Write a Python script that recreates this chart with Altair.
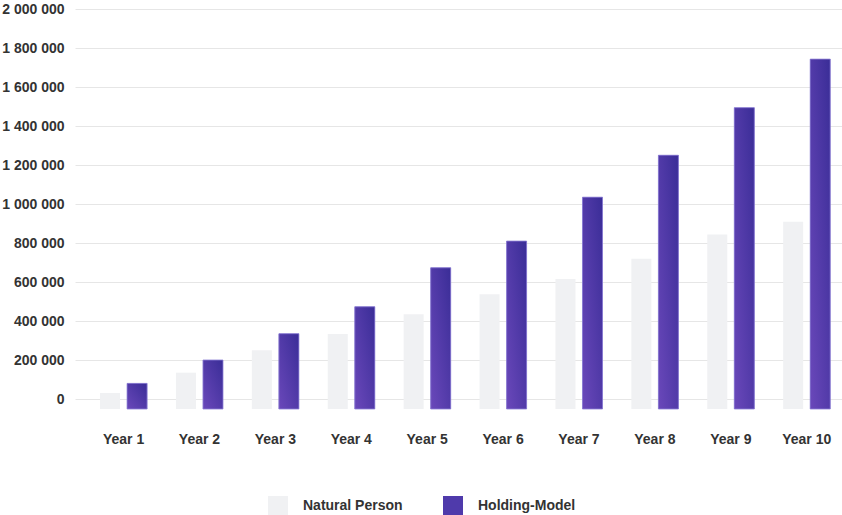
import altair as alt
import pandas as pd

years = [f"Year {i}" for i in range(1, 11)]
natural_person = [31000, 135000, 250000, 333000, 434000, 537000, 615000, 719000, 843000, 909000]
holding_model = [80000, 200000, 335000, 473000, 673000, 810000, 1035000, 1250000, 1494000, 1743000]
series_names = ["Natural Person", "Holding-Model"]
y_ticks = [0, 200000, 400000, 600000, 800000, 1000000, 1200000, 1400000, 1600000, 1800000, 2000000]

rows = []
for yr, a, b in zip(years, natural_person, holding_model):
    rows.append({"year": yr, "series": series_names[0], "value": a})
    rows.append({"year": yr, "series": series_names[1], "value": b})
df = pd.DataFrame(rows)

Y_MIN = -51282
Y_MAX = 2000000
FONT = "Liberation Sans"
TXT = "#333333"

x = alt.X(
    "year:N",
    sort=years,
    scale=alt.Scale(paddingInner=0.38, paddingOuter=0.2425, align=0.68),
    axis=alt.Axis(title=None, labelAngle=0, ticks=False, domain=False, labelPadding=23,
                  labelFont=FONT, labelFontSize=14, labelFontWeight="bold", labelColor=TXT),
)
xo = alt.XOffset("series:N", sort=series_names, scale=alt.Scale(paddingInner=0.26, paddingOuter=0))
y = alt.Y(
    "value:Q",
    scale=alt.Scale(domain=[Y_MIN, Y_MAX], nice=False, zero=False),
    axis=alt.Axis(values=y_ticks, title=None, ticks=False, domain=False, labelPadding=11,
                  grid=True, gridColor="#e6e6e6", gridWidth=1,
                  labelFont=FONT, labelFontSize=14, labelFontWeight="bold", labelColor=TXT,
                  labelExpr="replace(replace(format(datum.value, ','), ',', ' '), ',', ' ')"),
)

base = alt.Chart(df).mark_bar().encode(
    x=x,
    xOffset=xo,
    y=y,
    y2=alt.datum(Y_MIN),
    color=alt.Color(
        "series:N",
        sort=series_names,
        scale=alt.Scale(domain=series_names, range=["#f0f1f3", "#4f3aab"]),
        legend=alt.Legend(title=None, orient="none", legendX=193, legendY=487,
                          direction="horizontal", symbolType="square", symbolSize=400,
                          symbolStrokeWidth=0, labelFont=FONT, labelFontSize=14,
                          labelFontWeight="bold", labelColor=TXT, labelOffset=15,
                          columnPadding=40, padding=0),
    ),
)

grad = alt.Chart(df).transform_filter(
    alt.datum.series == "Holding-Model"
).mark_bar(
    fill=alt.Gradient(
        gradient="linear",
        stops=[alt.GradientStop(color="#6a48ba", offset=0),
               alt.GradientStop(color="#3a2d97", offset=1)],
        x1=0, y1=1, x2=1, y2=0,
    ),
    stroke="#8d7fd6", strokeWidth=1, strokeOpacity=0.8,
).encode(x=x, xOffset=xo, y=y, y2=alt.datum(Y_MIN))

chart = alt.layer(base, grad).properties(
    width=767, height=400,
    padding={"left": 75, "top": 9, "right": 0, "bottom": 106},
    autosize=alt.AutoSizeParams(type="none"),
    background="white",
).configure_view(strokeWidth=0)

chart.save("out.html", embed_options={"renderer": "svg", "actions": False})
